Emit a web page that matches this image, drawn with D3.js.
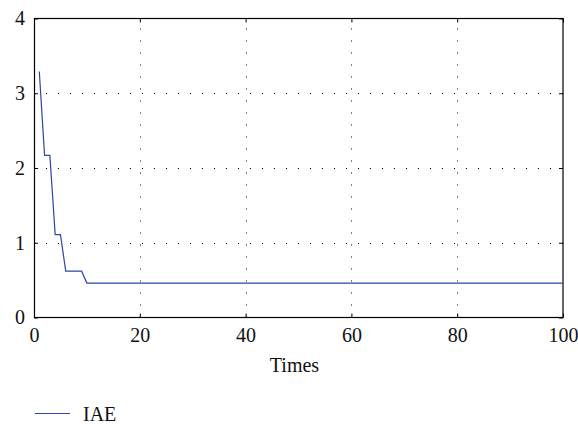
<!DOCTYPE html>
<html>
<head>
<meta charset="utf-8">
<script src="https://cdn.jsdelivr.net/npm/d3@7/dist/d3.min.js"></script>
<style>
  html, body { margin: 0; padding: 0; background: #fff; }
  svg { display: block; }
  text { font-family: "Liberation Serif", "DejaVu Serif", serif; fill: #111; }
</style>
</head>
<body>
<svg id="chart" width="578" height="424"></svg>
<script>
// Data (polyline vertices of the IAE curve)
const times = [1, 2, 3, 4, 5, 6, 9, 10, 100];
const iae   = [3.29, 2.17, 2.17, 1.11, 1.11, 0.62, 0.62, 0.46, 0.46];
const xTicks = [0, 20, 40, 60, 80, 100];
const yTicks = [0, 1, 2, 3, 4];
const seriesName = "IAE";
const xLabel = "Times";

(function () {
const svg = d3.select("#chart");
const FONT = '"Liberation Serif", "Times New Roman", serif';
const FS = 20;
const mLeft = 34, mRight = 563, mTop = 18.5, mBottom = 317.5;
const x = d3.scaleLinear().domain([0, 100]).range([mLeft, mRight]);
const y = d3.scaleLinear().domain([0, 4]).range([mBottom, mTop]);

// grid
const grid = svg.append("g").attr("stroke", "#000").attr("stroke-width", 1)
  .attr("stroke-dasharray", "1,11");
grid.selectAll("line.vx").data(xTicks.filter(d => d > 0 && d < 100)).join("line")
  .attr("x1", d => Math.round(x(d)) + 0.5).attr("x2", d => Math.round(x(d)) + 0.5)
  .attr("y1", mBottom).attr("y2", mTop);
grid.selectAll("line.hy").data(yTicks.filter(d => d > 0 && d < 4)).join("line")
  .attr("y1", d => Math.round(y(d)) + 0.5).attr("y2", d => Math.round(y(d)) + 0.5)
  .attr("x1", mLeft).attr("x2", mRight);

// axes
const xAxis = d3.axisBottom(x).tickValues(xTicks).tickSize(-4).tickPadding(10).tickFormat(d3.format("d"));
const yAxis = d3.axisLeft(y).tickValues(yTicks).tickSize(-4).tickPadding(9).tickFormat(d3.format("d"));
const gx = svg.append("g").attr("transform", `translate(0,${mBottom})`).call(xAxis);
const gy = svg.append("g").attr("transform", `translate(${mLeft},0)`).call(yAxis);
const gxt = svg.append("g").attr("transform", `translate(0,${mTop})`).call(d3.axisTop(x).tickValues(xTicks).tickSize(-4).tickFormat(""));
const gyr = svg.append("g").attr("transform", `translate(${mRight},0)`).call(d3.axisRight(y).tickValues(yTicks).tickSize(-4).tickFormat(""));
[gx, gy, gxt, gyr].forEach(g => {
  g.attr("font-family", FONT).attr("font-size", FS);
  g.select(".domain").remove();
  g.selectAll(".tick line").attr("stroke", "#000");
  g.selectAll("text").attr("fill", "#111");
});
gx.selectAll("text").attr("dy", "0.71em");

// box
svg.append("rect").attr("x", mLeft + 0.5).attr("y", mTop).attr("width", mRight - mLeft - 0.5)
  .attr("height", mBottom - mTop).attr("fill", "none").attr("stroke", "#000").attr("stroke-width", 1.2);

// line
const pts = times.map((t, i) => [t, iae[i]]);
svg.append("path").datum(pts)
  .attr("d", d3.line().x(d => x(d[0])).y(d => y(d[1])))
  .attr("fill", "none").attr("stroke", "#2a47a6").attr("stroke-width", 1.2);

// x label
svg.append("text").attr("x", (mLeft + mRight) / 2 - 4).attr("y", 372)
  .attr("text-anchor", "middle").attr("font-family", FONT).attr("font-size", FS).text(xLabel);

// legend
svg.append("line").attr("x1", 35).attr("x2", 70).attr("y1", 413.5).attr("y2", 413.5)
  .attr("stroke", "#2a47a6").attr("stroke-width", 1.2);
svg.append("text").attr("x", 83).attr("y", 421).attr("font-family", FONT).attr("font-size", FS).text(seriesName);
})();
</script>
</body>
</html>
